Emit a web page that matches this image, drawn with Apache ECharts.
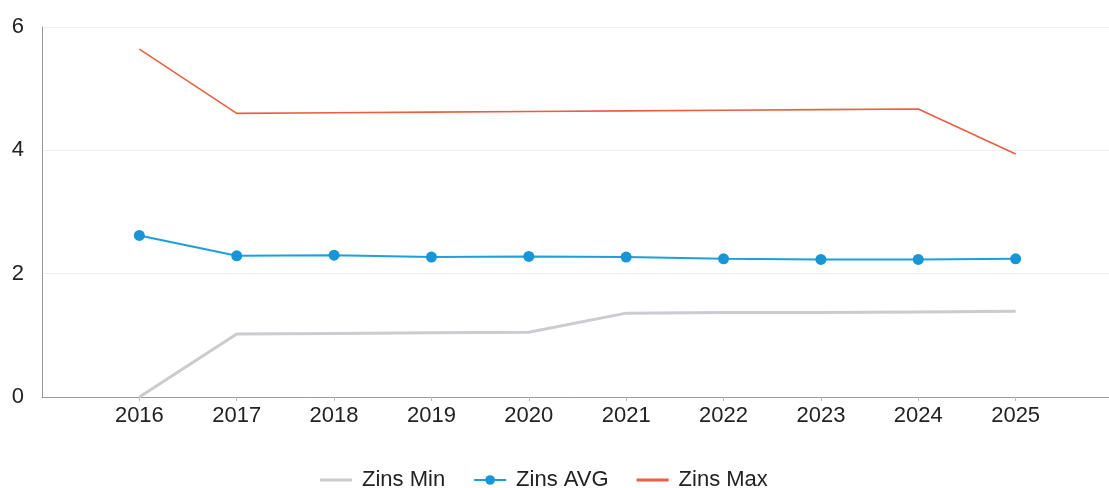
<!DOCTYPE html>
<html>
<head>
<meta charset="utf-8">
<script src="https://cdn.jsdelivr.net/npm/echarts@6/dist/echarts.min.js"></script>
<style>html,body{margin:0;padding:0;background:#fff;}#c{width:1109px;height:488px;}</style>
</head>
<body>
<div id="c"></div>
<script>
const categories = ["", "2016", "2017", "2018", "2019", "2020", "2021", "2022", "2023", "2024", "2025", ""];
const zinsMin = [null, 0.00, 1.02, 1.03, 1.04, 1.05, 1.36, 1.37, 1.37, 1.38, 1.39, null];
const zinsAvg = [null, 2.62, 2.29, 2.30, 2.27, 2.28, 2.27, 2.24, 2.23, 2.23, 2.24, null];
const zinsMax = [null, 5.64, 4.60, 4.61, 4.62, 4.63, 4.64, 4.65, 4.66, 4.67, 3.94, null];
const yTicks = [0, 2, 4, 6];

const lineIcon = 'path://M0,0H32V3H0Z';
const chart = echarts.init(document.getElementById('c'));
chart.setOption({
  animation: false,
  backgroundColor: '#fff',
  textStyle: { fontFamily: 'Liberation Sans, Arial, sans-serif' },
  grid: { left: 42, width: 1071, top: 27, bottom: 91, containLabel: false, outerBoundsMode: 'none' },
  legend: {
    top: 469,
    left: 320,
    padding: 0,
    itemWidth: 32,
    itemHeight: 12,
    itemGap: 28,
    textStyle: { fontSize: 22, color: '#222', fontFamily: 'Liberation Sans, Arial, sans-serif', padding: [0, 0, 0, 5] },
    data: [
      { name: 'Zins Min', icon: lineIcon },
      { name: 'Zins AVG' },
      { name: 'Zins Max', icon: lineIcon }
    ]
  },
  xAxis: {
    type: 'category',
    data: categories,
    boundaryGap: false,
    axisLine: { lineStyle: { color: '#999', width: 1 } },
    axisTick: { show: true, length: 4, lineStyle: { color: '#bbb' }, interval: (i, v) => v !== '' },
    axisLabel: { color: '#222', fontSize: 22, margin: 8, interval: 0 },
    splitLine: { show: false }
  },
  yAxis: {
    type: 'value',
    min: yTicks[0],
    max: yTicks[yTicks.length - 1],
    interval: 2,
    axisLine: { show: true, lineStyle: { color: '#999', width: 1 } },
    axisTick: { show: false },
    axisLabel: { color: '#222', fontSize: 22, margin: 18 },
    splitLine: { lineStyle: { color: '#f0f0f0', width: 1 } }
  },
  series: [
    {
      name: 'Zins Min', type: 'line', data: zinsMin,
      symbol: 'none', color: '#cbcbd0',
      lineStyle: { width: 3, color: '#cbcbd0' }
    },
    {
      name: 'Zins AVG', type: 'line', data: zinsAvg,
      symbol: 'circle', symbolSize: 11, color: '#1795d6',
      lineStyle: { width: 2, color: '#1ba0dc' },
      itemStyle: { color: '#1795d6' }
    },
    {
      name: 'Zins Max', type: 'line', data: zinsMax,
      symbol: 'none', color: '#eb5e42',
      lineStyle: { width: 1.6, color: '#eb5e42' }
    }
  ]
});
</script>
</body>
</html>
